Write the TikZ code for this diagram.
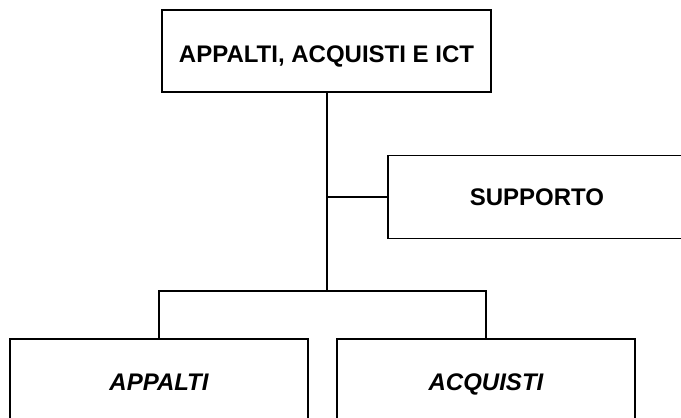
\documentclass[tikz,border=0pt]{standalone}
\usepackage{fontspec}
\setmainfont{Liberation Sans}
\begin{document}
\begin{tikzpicture}[x=1pt,y=-1pt,
  unit/.style={draw=black, line width=1.5pt, fill=white, inner sep=0pt,
    minimum width=#1, text height=17pt, text depth=0pt,
    font=\fontsize{24}{28}\selectfont\bfseries},
  subunit/.style={unit=298pt, minimum height=86pt,
    font=\fontsize{24}{28}\selectfont\bfseries\itshape},
  link/.style={line width=1.4pt}]
  \useasboundingbox (0,0) rectangle (681,418);
  \clip (0,0) rectangle (681,418);

  % connectors
  \coordinate (bus) at (327,291);
  \coordinate (tap) at (327,197);

  % units
  \node[unit=329pt, minimum height=82pt, text height=23pt] (head) at (326.5,51) {APPALTI, ACQUISTI E ICT};
  \node[unit=298pt, minimum height=83pt] (staff) at (537,197) {SUPPORTO};
  \node[subunit] (appalti) at (159,382) {APPALTI};
  \node[subunit] (acquisti) at (486,382) {ACQUISTI};

  \draw[link] (head.south -| bus) -- (bus);
  \draw[link] (tap) -- (staff.west);
  \draw[link] (appalti.north) |- (bus) -| (acquisti.north);
\end{tikzpicture}
\end{document}
